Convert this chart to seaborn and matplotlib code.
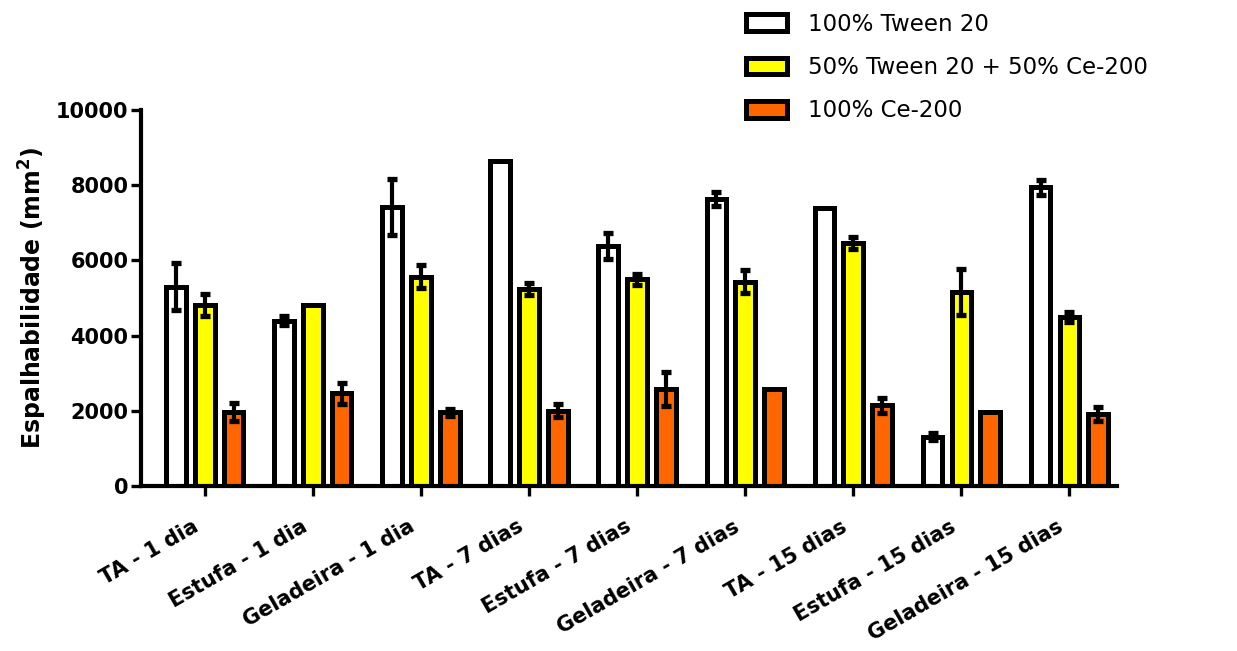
import pandas as pd
import numpy as np
import matplotlib
matplotlib.use("Agg")
import matplotlib.pyplot as plt
import matplotlib.transforms as mtransforms
import seaborn as sns

# --------------------------------------------------------------
# Data
# --------------------------------------------------------------
conditions = [
    "TA - 1 dia", "Estufa - 1 dia", "Geladeira - 1 dia",
    "TA - 7 dias", "Estufa - 7 dias", "Geladeira - 7 dias",
    "TA - 15 dias", "Estufa - 15 dias", "Geladeira - 15 dias",
]
formulations = ["100% Tween 20", "50% Tween 20 + 50% Ce-200", "100% Ce-200"]

tween_mean = [5300, 4400, 7420, 8650, 6380, 7630, 7400, 1310, 7940]
tween_sd = [620, 120, 740, 0, 340, 180, 0, 90, 190]
mix_mean = [4810, 4810, 5570, 5240, 5500, 5430, 6450, 5170, 4500]
mix_sd = [290, 0, 310, 150, 150, 310, 160, 610, 130]
ce_mean = [1980, 2460, 1960, 2000, 2580, 2580, 2150, 1980, 1920]
ce_sd = [240, 290, 100, 170, 440, 0, 200, 0, 180]

colors = ["#FFFFFF", "#FFFF00", "#FF6600"]

df = pd.DataFrame({
    "Condição": conditions * 3,
    "Formulação": np.repeat(formulations, len(conditions)),
    "Média": tween_mean + mix_mean + ce_mean,
    "DP": tween_sd + mix_sd + ce_sd,
})

# --------------------------------------------------------------
# Plot
# --------------------------------------------------------------
sns.set_style("ticks")
plt.rcParams["font.family"] = ["DejaVu Sans"]
for key in ["text.color", "axes.labelcolor", "xtick.color", "ytick.color", "axes.edgecolor"]:
    plt.rcParams[key] = "black"

fig = plt.figure(figsize=(12.37, 6.51), dpi=100)
ax = fig.add_axes([0.114, 0.2535, 0.789, 0.5775])

sns.barplot(
    data=df,
    x="Condição",
    y="Média",
    hue="Formulação",
    order=conditions,
    hue_order=formulations,
    palette=colors,
    errorbar=None,
    width=0.8,
    gap=0.32,
    edgecolor="black",
    linewidth=3.6,
    saturation=1,
    ax=ax,
)

# error bars (mean +/- SD) at the centre of each bar drawn by seaborn
for container, form in zip(ax.containers, formulations):
    sub = df[df["Formulação"] == form].set_index("Condição").loc[conditions]
    for bar, sd in zip(container, sub["DP"]):
        if sd <= 0:
            continue
        xc = bar.get_x() + bar.get_width() / 2
        ax.errorbar(xc, bar.get_height(), yerr=sd, color="black",
                    elinewidth=3, capsize=3.8, capthick=3.8, zorder=5)

ax.set_xlim(-0.59, 8.44)
ax.set_ylim(0, 10000)
ax.set_yticks(range(0, 10001, 2000))
ax.set_xlabel("")
ax.set_ylabel("Espalhabilidade (mm$^{\\mathbf{2}}$)",
              fontsize=17, fontweight="bold", labelpad=5)

sns.despine(ax=ax)
for side in ["left", "bottom"]:
    ax.spines[side].set_linewidth(3)
ax.tick_params(axis="both", direction="out", length=7, width=2.4, pad=2)
ax.tick_params(axis="x", pad=12)

for lbl in ax.get_yticklabels():
    lbl.set_fontweight("bold")
    lbl.set_fontsize(15)
ax.set_xticks(range(len(conditions)))
ax.set_xticklabels(conditions, rotation=30, ha="right", rotation_mode="anchor",
                   fontsize=15, fontweight="bold")
# nudge the slanted labels a little left, as in the original
shift = mtransforms.ScaledTranslation(-9 / 72, -3 / 72, fig.dpi_scale_trans)
for lbl in ax.get_xticklabels():
    lbl.set_transform(lbl.get_transform() + shift)

leg = fig.legend(
    handles=ax.get_legend_handles_labels()[0],
    labels=formulations,
    loc="upper left",
    bbox_to_anchor=(0.590, 1.005),
    frameon=False,
    fontsize=16.5,
    handlelength=1.8,
    handleheight=0.75,
    labelspacing=0.88,
    handletextpad=0.9,
    borderpad=0.2,
)
ax.get_legend().remove()
for h in leg.legend_handles:
    h.set_linewidth(3.6)
    h.set_edgecolor("black")

fig.savefig("out.png", dpi=100)
